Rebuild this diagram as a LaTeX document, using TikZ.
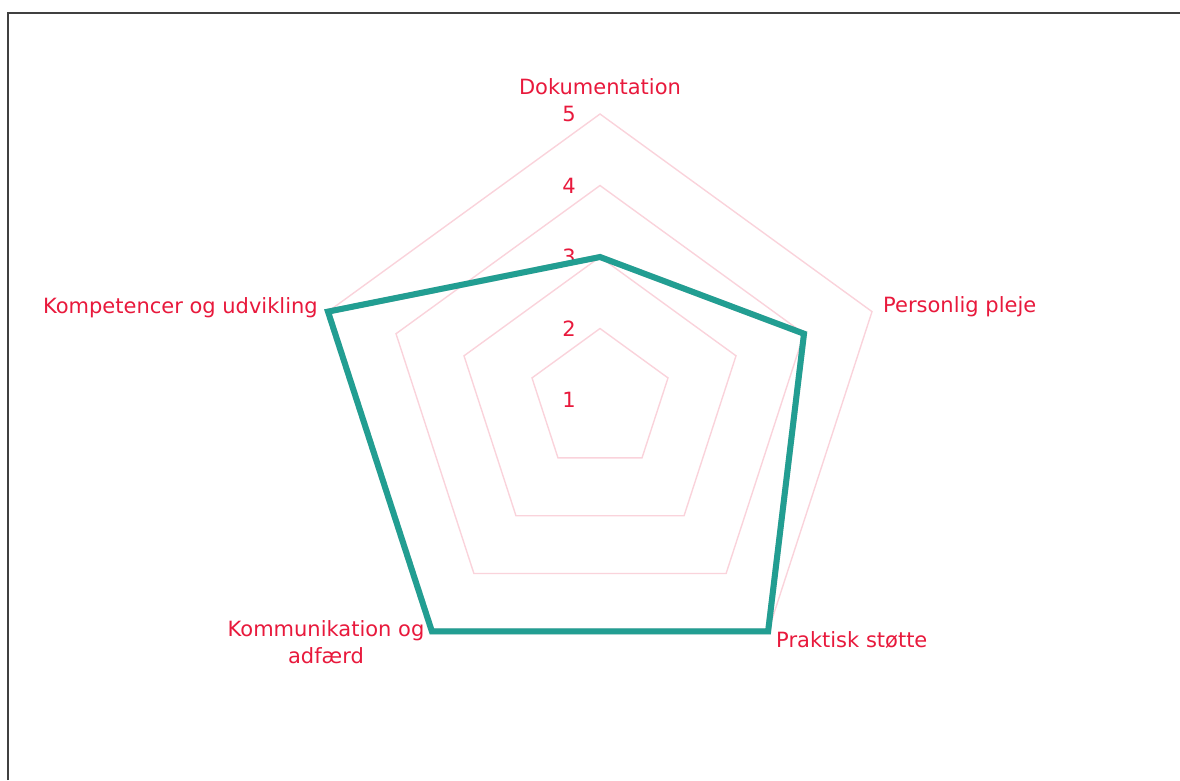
\documentclass[tikz,border=0pt]{standalone}
\usepackage{fontspec}
\setmainfont{DejaVu Sans}
\usepackage{xcolor}
\usetikzlibrary{positioning, calc}
\definecolor{labelred}{HTML}{E8193C}
\definecolor{gridpink}{HTML}{FAD3DB}
\definecolor{radarteal}{HTML}{229E92}

\begin{document}
\begin{tikzpicture}[x=1pt, y=-1pt,
  lbl/.style={text=labelred, font=\fontsize{21}{27}\selectfont, inner sep=0pt},
  gridline/.style={gridpink, line width=1.4pt},
  dataline/.style={radarteal, line width=6pt, line join=miter}]
\useasboundingbox (0,0) rectangle (1180,780);
% Frame
\draw[line width=2pt, black!75] (7.5,780) -- (7.5,12.5) -- (1180,12.5);
\begin{scope}[shift={(600,400)}]
% Grid rings, value 1 in the centre
\foreach \v in {2,...,5} {
  \pgfmathsetmacro\r{(\v-1)*71.5}
  \draw[gridline] (-90:\r) -- (-18:\r) -- (54:\r) -- (126:\r) -- (198:\r) -- cycle;
}
% Scale values
\foreach \v in {1,...,5} {
  \node[lbl] (val\v) at (-31,{-(\v-1)*71.5}) {\v};
}
% Data points
\coordinate (dok) at (-90:143);
\coordinate (pleje) at (-18:214.5);
\coordinate (praktisk) at (54:286);
\coordinate (komm) at (126:286);
\coordinate (komp) at (198:286);
% Shadow
\begin{scope}[shift={(2,3)}]
\draw[dataline, black, opacity=0.15] (dok) -- (pleje) -- (praktisk) -- (komm) -- (komp) -- cycle;
\end{scope}
% Data line
\draw[dataline] (dok) -- (pleje) -- (praktisk) -- (komm) -- (komp) -- cycle;
% Axis labels
\node[lbl] (dokLabel) at (0,-313) {Dokumentation};
\node[lbl, anchor=west] (plejeLabel) at (283,-93) {Personlig pleje};
\node[lbl, anchor=west] (praktiskLabel) at (176,240) {Praktisk støtte};
\node[lbl, align=center] (kommLabel) at (-274,242) {Kommunikation og\\adfærd};
\node[lbl, anchor=east] (kompLabel) at (-282,-92) {Kompetencer og udvikling};
\end{scope}
\end{tikzpicture}
\end{document}
